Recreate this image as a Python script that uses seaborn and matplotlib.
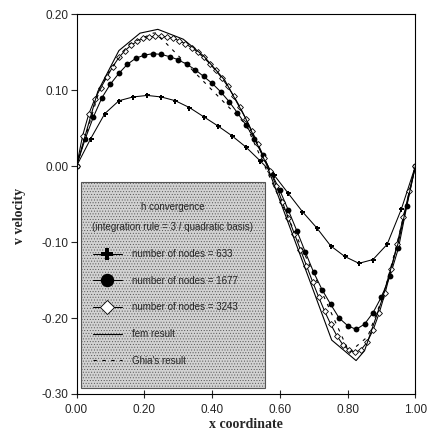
import numpy as np
import pandas as pd
import matplotlib
matplotlib.use("Agg")
import matplotlib.pyplot as plt
from matplotlib.patches import Rectangle
import seaborn as sns

# ---------------- data ----------------
x633 = [i / 24 for i in range(25)]
v633 = [0.0, 0.036, 0.069, 0.086, 0.091, 0.093, 0.091, 0.086, 0.077, 0.065,
        0.053, 0.040, 0.025, 0.007, -0.012, -0.036, -0.060, -0.081, -0.105,
        -0.119, -0.128, -0.123, -0.103, -0.057, 0.0]

x1677 = [i / 40 for i in range(41)]
v1677 = [0.0, 0.035, 0.065, 0.090, 0.108, 0.122, 0.134, 0.142, 0.146, 0.148,
         0.147, 0.144, 0.140, 0.134, 0.127, 0.118, 0.109, 0.098, 0.085, 0.070,
         0.054, 0.036, 0.014, -0.009, -0.032, -0.058, -0.085, -0.113, -0.140,
         -0.163, -0.182, -0.200, -0.210, -0.215, -0.208, -0.193, -0.172,
         -0.145, -0.108, -0.052, 0.0]

x3243 = [i / 56 for i in range(57)]
v3243 = [0.0, 0.040, 0.068, 0.088, 0.103, 0.117, 0.131, 0.143, 0.152, 0.159,
         0.164, 0.168, 0.170, 0.171, 0.171, 0.170, 0.168, 0.165, 0.161, 0.156,
         0.150, 0.143, 0.135, 0.126, 0.116, 0.105, 0.092, 0.078, 0.062, 0.046,
         0.029, 0.011, -0.006, -0.026, -0.047, -0.068, -0.089, -0.110, -0.131,
         -0.152, -0.172, -0.191, -0.208, -0.223, -0.235, -0.242, -0.245,
         -0.242, -0.232, -0.216, -0.194, -0.167, -0.136, -0.102, -0.067,
         -0.033, 0.0]

xfem = [0.0, 0.0625, 0.125, 0.1875, 0.24, 0.315, 0.375, 0.4375, 0.5, 0.5625,
        0.625, 0.6875, 0.753, 0.825, 0.85, 0.9, 0.95, 1.0]
vfem = [0.0, 0.098, 0.152, 0.175, 0.180, 0.167, 0.145, 0.113, 0.062, 0.0,
        -0.075, -0.150, -0.229, -0.256, -0.243, -0.178, -0.100, 0.0]

xghia = [0.0, 0.0625, 0.0703, 0.0781, 0.0938, 0.1563, 0.2266, 0.2344, 0.5,
         0.8047, 0.8594, 0.9063, 0.9453, 0.9531, 0.9609, 0.9688, 1.0]
vghia = [0.0, 0.09233, 0.10091, 0.10890, 0.12317, 0.16077, 0.17507, 0.17527,
         0.05454, -0.24533, -0.22445, -0.16914, -0.10313, -0.08864, -0.07391,
         -0.05906, 0.0]

labels = ["number of nodes = 633", "number of nodes = 1677",
          "number of nodes = 3243", "fem result", "Ghia's result"]
legend_title = "h convergence\n(integration rule = 3 / quadratic basis)"
xticks = [0.0, 0.2, 0.4, 0.6, 0.8, 1.0]
yticks = [-0.3, -0.2, -0.1, 0.0, 0.1, 0.2]

# ---------------- plot ----------------
sns.set_theme(style="white")
plt.rcParams["font.family"] = ["Liberation Sans", "DejaVu Sans"]
plt.rcParams["hatch.linewidth"] = 0.4

fig = plt.figure(figsize=(4.3, 4.42), dpi=100)
ax = fig.add_axes([0.178, 0.1086, 0.788, 0.8594])

lw = 0.75
sns.lineplot(x=x633, y=v633, ax=ax, color="black", lw=lw, marker="P",
             markersize=3.6, markeredgewidth=0, label=labels[0], sort=False)
sns.lineplot(x=x1677, y=v1677, ax=ax, color="black", lw=lw, marker="o",
             markersize=4.2, markeredgewidth=0, label=labels[1], sort=False)
sns.lineplot(x=x3243, y=v3243, ax=ax, color="black", lw=lw, marker="D",
             markersize=3.0, markerfacecolor="white", markeredgecolor="black",
             markeredgewidth=0.6, label=labels[2], sort=False)
sns.lineplot(x=xfem, y=vfem, ax=ax, color="black", lw=0.8,
             label=labels[3], sort=False)
sns.lineplot(x=xghia, y=vghia, ax=ax, color="black", lw=0.8,
             linestyle=(0, (3, 5)), label=labels[4], sort=False)

ax.set_xlim(0, 1)
ax.set_ylim(-0.3, 0.2)
ax.set_xticks(xticks)
ax.set_yticks(yticks)
ax.set_xticklabels([f"{t:.2f}" for t in xticks], fontsize=8.5)
ax.set_yticklabels([f"{t:.2f}" for t in yticks], fontsize=8.5)
ax.tick_params(axis="y", direction="out", length=4, width=0.8, left=True, pad=2)
ax.tick_params(axis="x", direction="inout", length=6, width=0.8, bottom=True, pad=4)
for sp in ax.spines.values():
    sp.set_color("black")
    sp.set_linewidth(0.8)

ax.set_xlabel("x coordinate", family=["Liberation Serif", "DejaVu Serif"],
              fontweight="bold", fontsize=10, labelpad=2)
ax.set_ylabel("v velocity", family=["Liberation Serif", "DejaVu Serif"],
              fontweight="bold", fontsize=10, labelpad=6)
ax.yaxis.set_label_coords(-0.15, 0.47)

# stippled legend box
box = Rectangle((0.012, 0.016), 0.544, 0.542, transform=ax.transAxes,
                facecolor="#d2d2d2", edgecolor="#555555", linewidth=0.8,
                hatch="......", zorder=4)
ax.add_patch(box)

leg = ax.legend(loc="upper left", bbox_to_anchor=(0.012, 0.016, 0.544, 0.522),
                mode="expand", title=legend_title, frameon=False,
                prop={"family": ["Liberation Sans Narrow", "Liberation Sans"], "size": 7},
                title_fontproperties={"family": ["Liberation Sans Narrow", "Liberation Sans"], "size": 7},
                handlelength=3.0, handletextpad=1.0, labelspacing=1.72,
                borderpad=1.25, markerscale=2.3, borderaxespad=0)
leg.set_zorder(6)
leg._legend_box.align = "center"
title = leg.get_title()
title.set_multialignment("center")
title.set_linespacing(2.3)

fig.savefig("out.png", dpi=100)
